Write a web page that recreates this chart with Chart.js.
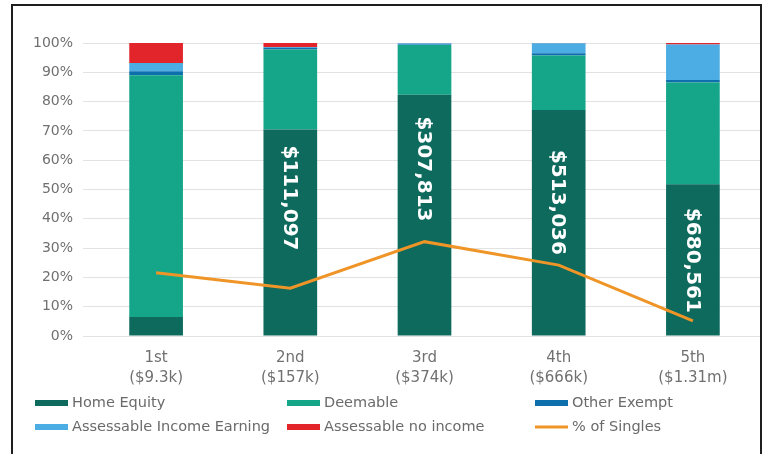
<!DOCTYPE html>
<html>
<head>
<meta charset="utf-8">
<script src="https://cdn.jsdelivr.net/npm/chart.js@4.4.1/dist/chart.umd.min.js"></script>
<style>
  html, body { margin: 0; padding: 0; background: #fff; overflow: hidden; }
  #wrap { position: relative; width: 771px; height: 454px; }
  #frame {
    position: absolute; left: 11px; top: 4px; width: 751px; height: 480px;
    box-sizing: border-box; border: 2px solid #1e1e1e; pointer-events: none;
  }
</style>
</head>
<body>
<div id="wrap">
  <canvas id="myChart" width="771" height="454"></canvas>
  <div id="frame"></div>
</div>
<script>
const quintiles = [["1st", "($9.3k)"], ["2nd", "($157k)"], ["3rd", "($374k)"], ["4th", "($666k)"], ["5th", "($1.31m)"]];

// share of assets, percent
const homeEquity = [6.5, 70.5, 82.3, 77.1, 51.8];
const deemable = [82.5, 27.3, 17.0, 18.6, 34.7];
const otherExempt = [1.4, 0.6, 0.2, 0.8, 0.9];
const assessableEarning = [2.8, 0.2, 0.4, 3.4, 12.1];
const assessableNoIncome = [6.8, 1.4, 0.1, 0.1, 0.5];
const pctSingles = [21.6, 16.3, 32.2, 24.2, 5.2];

// average home equity written inside the bars, and where (in %) it sits
const equityLabels = ["", "$111,097", "$307,813", "$513,036", "$680,561"];
const equityLabelAt = [0, 47.1, 57.0, 45.6, 25.8];

const yTicks = [0, 10, 20, 30, 40, 50, 60, 70, 80, 90, 100];

const FONT = "'DejaVu Sans', Verdana, sans-serif";

const ctx = document.getElementById("myChart").getContext("2d");

const bar = (label, values, color) => ({
  type: "bar",
  label: label,
  data: values,
  backgroundColor: color,
  borderWidth: 0,
  stack: "s",
  order: 1,
  categoryPercentage: 1,
  barPercentage: 0.4,
});

const data = {
  labels: quintiles,
  datasets: [
    {
      type: "line",
      label: "% of Singles",
      data: pctSingles,
      borderColor: "#ef9528",
      backgroundColor: "#ef9528",
      borderWidth: 3,
      pointRadius: 0,
      tension: 0,
      order: 0,
    },
    bar("Home Equity", homeEquity, "#0d6a5d"),
    bar("Deemable", deemable, "#15a68a"),
    bar("Other Exempt", otherExempt, "#0d6fab"),
    bar("Assessable Income Earning", assessableEarning, "#4bade3"),
    bar("Assessable no income", assessableNoIncome, "#e1252a"),
  ],
};

// white rotated dollar values on the home equity segments
const equityText = {
  id: "equityText",
  afterDatasetsDraw(chart) {
    const meta = chart.getDatasetMeta(1);
    const y = chart.scales.y;
    const c = chart.ctx;
    c.save();
    c.fillStyle = "#ffffff";
    c.font = "bold 20px " + FONT;
    c.textAlign = "center";
    c.textBaseline = "middle";
    meta.data.forEach((el, i) => {
      if (!equityLabels[i]) return;
      c.save();
      c.translate(el.x, y.getPixelForValue(equityLabelAt[i]));
      c.rotate(Math.PI / 2);
      c.fillText(equityLabels[i], 0, 1);
      c.restore();
    });
    c.restore();
  },
};

// three-column legend under the axis
const gridLegend = {
  id: "gridLegend",
  afterDraw(chart) {
    const c = chart.ctx;
    const order = [1, 2, 3, 4, 5, 0];
    const cols = [35, 287, 535];
    const rows = [403, 427];
    c.save();
    c.font = "14.5px " + FONT;
    c.textBaseline = "middle";
    c.textAlign = "left";
    order.forEach((di, k) => {
      const ds = chart.data.datasets[di];
      const x = cols[k % 3];
      const yy = rows[Math.floor(k / 3)];
      if (ds.type === "line") {
        c.strokeStyle = ds.borderColor;
        c.lineWidth = 3;
        c.beginPath();
        c.moveTo(x, yy);
        c.lineTo(x + 33, yy);
        c.stroke();
      } else {
        c.fillStyle = ds.backgroundColor;
        c.fillRect(x, yy - 3, 33, 6);
      }
      c.fillStyle = "#6a6a6a";
      c.fillText(ds.label, x + 37, yy);
    });
    c.restore();
  },
};

const config = {
  data: data,
  options: {
    responsive: false,
    animation: false,
    layout: { padding: { top: 43, right: 11, bottom: 0, left: 0 } },
    plugins: {
      legend: { display: false },
      tooltip: { enabled: false },
    },
    scales: {
      x: {
        stacked: true,
        grid: { display: false, drawTicks: false },
        border: { display: false },
        ticks: {
          color: "#707070",
          padding: 12,
          font: { family: FONT, size: 15, lineHeight: 1.35 },
        },
        afterFit(scale) { scale.height = 118; },
      },
      y: {
        stacked: true,
        min: 0,
        max: 100,
        afterBuildTicks(scale) { scale.ticks = yTicks.map(v => ({ value: v })); },
        grid: { color: "#e2e2e2", lineWidth: 1, tickLength: 6 },
        border: { display: false },
        ticks: {
          color: "#707070",
          padding: 10,
          font: { family: FONT, size: 14 },
          callback: v => v + "%",
        },
        afterFit(scale) { scale.width = 89; },
      },
    },
  },
  plugins: [equityText, gridLegend],
};

const myChart = new Chart(ctx, config);
</script>
</body>
</html>
